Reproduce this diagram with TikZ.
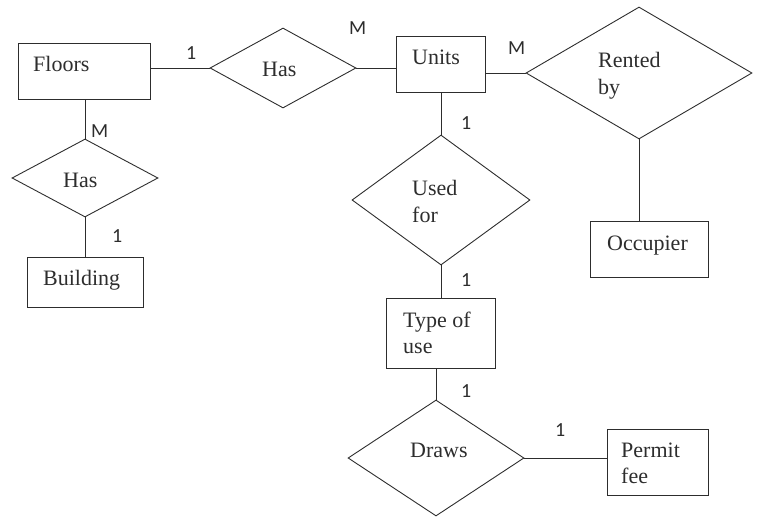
\documentclass[tikz,border=0pt]{standalone}
\usepackage{fontspec}
\newfontfamily\serifx{Liberation Serif}
\newfontfamily\cardfont{Carlito}
\usetikzlibrary{shapes.geometric}
\definecolor{ink}{RGB}{45,45,45}
\tikzset{
  ent/.style={draw=ink, line width=0.9pt, rectangle, inner sep=0pt},
  rel/.style={draw=ink, line width=0.9pt, diamond, inner sep=0pt},
  lbl/.style={anchor=base west, inner sep=0pt, text=ink, font=\serifx\fontsize{22}{27}\selectfont},
  card/.style={anchor=base west, inner sep=0pt, text=ink, font=\cardfont\fontsize{20}{23}\selectfont},
  conn/.style={draw=ink, line width=0.9pt}
}
\begin{document}
\begin{tikzpicture}[x=1pt,y=-1pt]
\useasboundingbox (0,0) rectangle (759,516);
% entities
\node[ent, minimum width=132pt, minimum height=56pt] (floors) at (84,71) {};
\node[ent, minimum width=89pt, minimum height=56pt] (units) at (440.5,64) {};
\node[ent, minimum width=118pt, minimum height=56pt] (occ) at (649,249) {};
\node[ent, minimum width=109pt, minimum height=70pt] (type) at (440.5,333) {};
\node[ent, minimum width=101pt, minimum height=66pt] (permit) at (657.5,462) {};
\node[ent, minimum width=116pt, minimum height=50pt] (building) at (85,282) {};
% relationships
\node[rel, minimum width=146pt, minimum height=80pt] (has1) at (283,68) {};
\node[rel, minimum width=226pt, minimum height=132pt] (rented) at (639,73) {};
\node[rel, minimum width=178pt, minimum height=130pt] (usedfor) at (441,200) {};
\node[rel, minimum width=176pt, minimum height=116pt] (draws) at (436,458) {};
\node[rel, minimum width=146pt, minimum height=78pt] (has2) at (85,178) {};
% texts
\node[lbl] (tfloors) at (33,72) {Floors};
\node[lbl] (thas1) at (262,77) {Has};
\node[lbl] (tunits) at (412,65) {Units};
\node[lbl] (trented) at (598,68) {Rented};
\node[lbl] (tby) at (598,95) {by};
\node[lbl] (tused) at (412,195) {Used};
\node[lbl] (tfor) at (412,222) {for};
\node[lbl] (tocc) at (607,250) {Occupier};
\node[lbl] (ttype) at (403,327) {Type of};
\node[lbl] (tuse) at (403,353) {use};
\node[lbl] (tdraws) at (410,457) {Draws};
\node[lbl] (tpermit) at (621,457) {Permit};
\node[lbl] (tfee) at (621,483) {fee};
\node[lbl] (thas2) at (63,187) {Has};
\node[lbl] (tbuilding) at (43,285) {Building};
% cardinalities
\node[card] (c1) at (186,60) {1};
\node[card] (c2) at (349,35) {M};
\node[card] (c3) at (508,55) {M};
\node[card] (c4) at (461,129) {1};
\node[card] (c5) at (461,286) {1};
\node[card] (c6) at (461,397) {1};
\node[card] (c7) at (555,436) {1};
\node[card] (c8) at (91,137) {M};
\node[card] (c9) at (112,242) {1};
% connectors
\draw[conn] (has1.west -| floors.east) -- (has1.west);
\draw[conn] (has1.east) -- (has1.east -| units.west);
\draw[conn] (rented.west -| units.east) -- (rented.west);
\draw[conn] (usedfor.north |- units.south) -- (usedfor.north);
\draw[conn] (rented.south) -- (rented.south |- occ.north);
\draw[conn] (usedfor.south) -- (usedfor.south |- type.north);
\draw[conn] (draws.north |- type.south) -- (draws.north);
\draw[conn] (draws.east) -- (draws.east -| permit.west);
\draw[conn] (has2.north |- floors.south) -- (has2.north);
\draw[conn] (has2.south) -- (has2.south |- building.north);
\end{tikzpicture}
\end{document}
